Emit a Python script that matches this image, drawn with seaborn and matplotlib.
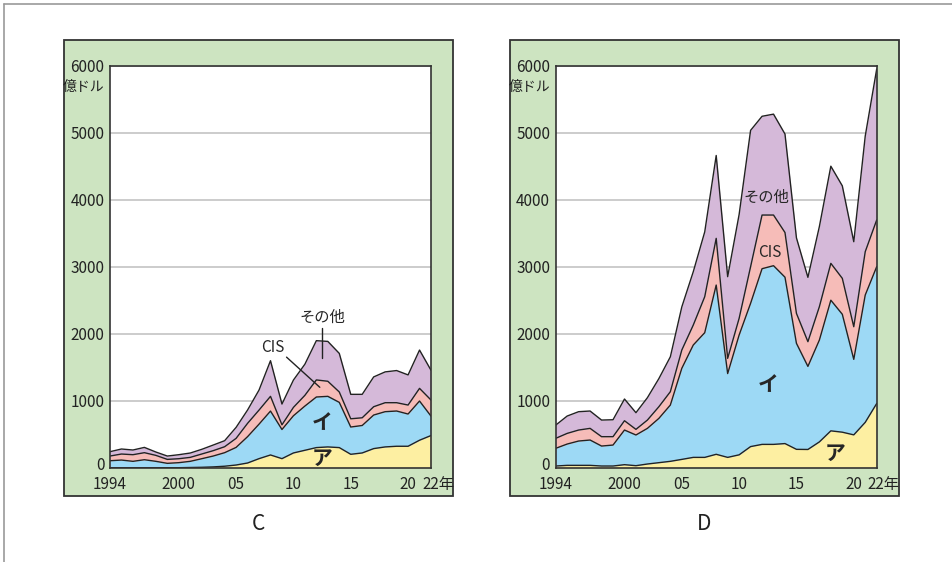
import numpy as np
import pandas as pd
import matplotlib.pyplot as plt
import matplotlib.transforms as mtransforms
import seaborn as sns
from matplotlib.patches import Rectangle
from matplotlib.lines import Line2D

sns.set_theme(style="white")
plt.rcParams['font.family'] = ['Noto Sans CJK JP', 'DejaVu Sans']

# データ（億ドル）
years = list(range(1994, 2023))

# C
c_a = [0, 0, 0, 0, 0, 0, 0, 3, 6, 12, 22, 40, 70, 135, 190, 135, 220, 260, 300,
       310, 300, 200, 220, 285, 310, 320, 320, 410, 480]
c_i = [104, 114, 95, 119, 95, 65, 75, 92, 128, 162, 202, 263, 393, 515, 655, 435,
       555, 660, 755, 755, 675, 407, 410, 501, 526, 526, 481, 585, 290]
c_cis = [70, 90, 99, 105, 89, 59, 59, 59, 70, 80, 89, 135, 199, 210, 220, 70,
         125, 160, 255, 225, 155, 123, 115, 124, 134, 124, 134, 189, 240]
c_oth = [65, 75, 70, 79, 50, 50, 60, 65, 70, 84, 90, 164, 199, 299, 532, 310,
         408, 465, 586, 595, 576, 365, 350, 445, 460, 480, 450, 572, 445]

# D
d_a = [25, 35, 35, 35, 25, 25, 45, 30, 55, 75, 95, 124, 154, 154, 200, 154, 192,
       315, 348, 348, 360, 274, 272, 385, 550, 530, 490, 677, 958]
d_i = [264, 318, 363, 378, 298, 313, 517, 458, 532, 661, 840, 1359, 1677, 1861,
       2526, 1251, 1788, 2138, 2622, 2667, 2483, 1582, 1240, 1520, 1950, 1760,
       1127, 1900, 2042]
d_cis = [149, 159, 164, 174, 140, 125, 139, 84, 124, 174, 199, 273, 298, 537,
         697, 227, 249, 547, 801, 756, 667, 447, 369, 498, 550, 536, 487, 647, 697]
d_oth = [197, 259, 274, 259, 248, 253, 324, 249, 334, 420, 521, 644, 796, 968,
         1237, 1219, 1551, 2035, 1474, 1506, 1470, 1127, 960, 1197, 1450, 1381,
         1269, 1726, 2253]

layers = ['ア', 'イ', 'CIS', 'その他']
colors = ['#fdefa2', '#9dd9f5', '#f6bcb8', '#d5b9d9']
green = '#cde4c1'

W, H = 952, 562
fig = plt.figure(figsize=(W / 100, H / 100), dpi=100)


def fx(px):
    return px / W


def fy(py):
    return 1 - py / H


# 外枠
fig.add_artist(Line2D([fx(4), 1], [fy(4), fy(4)], color='#999999', lw=1.2))
fig.add_artist(Line2D([fx(4), fx(4)], [fy(4), 0], color='#999999', lw=1.2))

# 緑の枠
for x0 in (64, 510):
    fig.add_artist(Rectangle((fx(x0), fy(496)), 389 / W, 456 / H,
                             transform=fig.transFigure, facecolor=green,
                             edgecolor='#333333', lw=1.3, zorder=-1))


def draw(ax, a, i, cis, oth):
    ax.stackplot(years, a, i, cis, oth, colors=colors, linewidth=0)
    cum = np.cumsum([a, i, cis, oth], axis=0)
    df = pd.DataFrame({'year': years * 4,
                       'value': cum.ravel(),
                       'layer': np.repeat(layers, len(years))})
    sns.lineplot(data=df, x='year', y='value', hue='layer',
                 palette=['#222222'] * 4, linewidth=1.0, legend=False, ax=ax)
    ax.set_xlim(1994, 2022)
    ax.set_ylim(0, 6000)
    ax.set_yticks(range(0, 7000, 1000))
    ax.set_yticklabels([str(v) for v in range(0, 7000, 1000)])
    ax.set_xticks([1994, 2000, 2005, 2010, 2015, 2020, 2022])
    ax.set_xticklabels(['1994', '2000', '05', '10', '15', '20', '22年'])
    ax.set_xticks([1995, 2000, 2005, 2010, 2015, 2020], minor=True)
    ax.tick_params(axis='x', which='major', length=0, pad=6, labelsize=11,
                   colors='#222222')
    ax.tick_params(axis='x', which='minor', length=4, width=1, direction='in',
                   color='#333333')
    ax.tick_params(axis='y', length=0, pad=4, labelsize=11, colors='#222222')
    ax.yaxis.grid(True, color='#c4c4c4', lw=1.2)
    ax.xaxis.grid(False)
    ax.set_axisbelow(True)
    for s in ax.spines.values():
        s.set_color('#333333')
        s.set_linewidth(1.2)
    ax.set_xlabel('')
    ax.set_ylabel('')
    # 目盛りラベルの微調整（0 を少し上、22年を少し右へ）
    up = mtransforms.ScaledTranslation(0, 3 / 72, fig.dpi_scale_trans)
    zero = ax.get_yticklabels()[0]
    zero.set_transform(zero.get_transform() + up)
    right = mtransforms.ScaledTranslation(5 / 72, 0, fig.dpi_scale_trans)
    last = ax.get_xticklabels()[-1]
    last.set_transform(last.get_transform() + right)
    ax.text(-0.017, 0.965, '億ドル', transform=ax.transAxes, ha='right',
            va='top', fontsize=10, color='#222222')


ax1 = fig.add_axes([fx(110), fy(467.7), 321 / W, 402 / H])
draw(ax1, c_a, c_i, c_cis, c_oth)
ax1.text(2012.5, 2240, 'その他', ha='center', va='center', fontsize=11)
ax1.plot([2012.5, 2012.5], [2085, 1640], color='#222222', lw=1)
ax1.text(2008.2, 1790, 'CIS', ha='center', va='center', fontsize=11)
ax1.plot([2009.4, 2012.3], [1650, 1200], color='#222222', lw=1)
ax1.text(2012.5, 667, 'イ', ha='center', va='center', fontsize=15,
         fontweight='bold')
ax1.text(2012.5, 145, 'ア', ha='center', va='center', fontsize=15,
         fontweight='bold')

ax2 = fig.add_axes([fx(555.7), fy(467.7), 321 / W, 402 / H])
draw(ax2, d_a, d_i, d_cis, d_oth)
ax2.text(2012.35, 4040, 'その他', ha='center', va='center', fontsize=11)
ax2.text(2012.7, 3210, 'CIS', ha='center', va='center', fontsize=11)
ax2.text(2012.5, 1234, 'イ', ha='center', va='center', fontsize=15,
         fontweight='bold')
ax2.text(2018.4, 220, 'ア', ha='center', va='center', fontsize=15,
         fontweight='bold')

fig.text(fx(258), fy(524), 'C', ha='center', va='center', fontsize=15,
         color='#222222')
fig.text(fx(704), fy(524), 'D', ha='center', va='center', fontsize=15,
         color='#222222')

fig.savefig('out.png', dpi=100)
